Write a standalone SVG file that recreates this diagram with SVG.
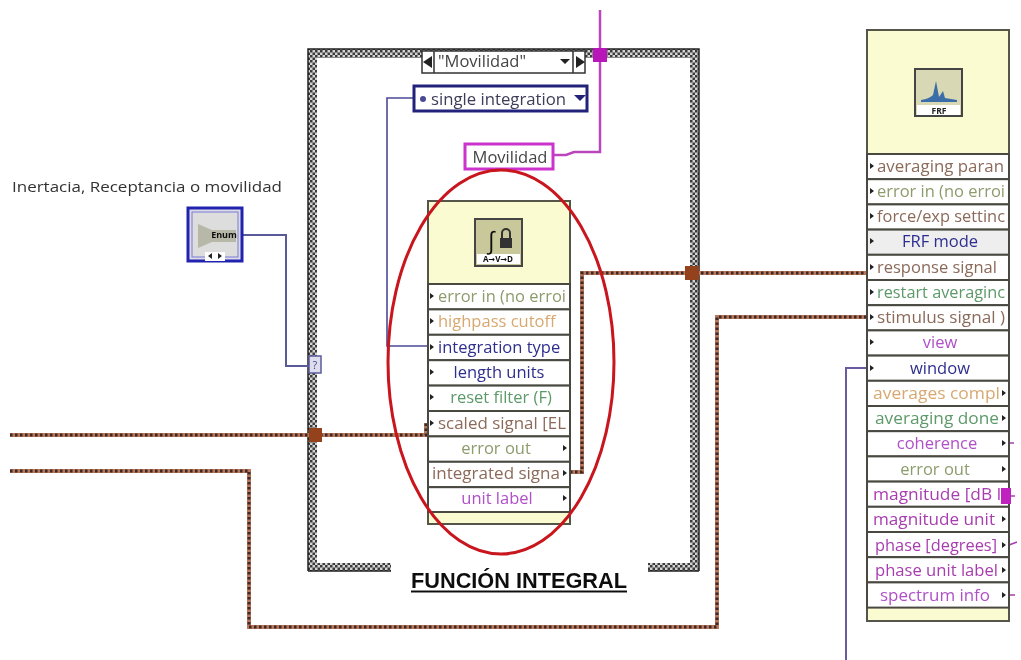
<svg xmlns="http://www.w3.org/2000/svg" width="1021" height="660" viewBox="0 0 1021 660">
<style>
text{font-family:"Open Sans","DejaVu Sans",sans-serif;font-size:16.5px;text-anchor:middle}
.l{text-anchor:start}
.row{fill:#fff;stroke:#4a4a42;stroke-width:2}
.body{fill:#fbfbd2;stroke:#55554a;stroke-width:2}
.term{fill:#222}
.w1{fill:none;stroke:#b8765a;stroke-width:4}
.w2{fill:none;stroke:#3d2a26;stroke-width:3;stroke-dasharray:2.5 2.5}
.enum{fill:none;stroke:#5a5a9a;stroke-width:2}
.pink{fill:none;stroke:#bb44bb;stroke-width:2.5}
.bl{fill:#2e2e90}.gr{fill:#5d9a6a}.ol{fill:#8c9c6c}.or{fill:#d8a870}.br{fill:#8c6a5a}.pu{fill:#b050c8}.mg{fill:#a83cb0}
</style>
<defs>
<pattern id="chk" width="5" height="5" patternUnits="userSpaceOnUse">
<rect width="5" height="5" fill="#d4d4d4"/><rect width="2.5" height="2.5" fill="#3a3a3a"/><rect x="2.500" y="2.500" width="2.500" height="2.500" fill="#3a3a3a"/>
</pattern>
<filter id="soft" x="0" y="0" width="100%" height="100%"><feGaussianBlur stdDeviation="0.5"/></filter>
</defs>
<rect width="1021" height="660" fill="#fff"/>
<g filter="url(#soft)">
<g id="case-frame">
<rect x="308" y="49" width="391" height="9" fill="url(#chk)"/>
<rect x="308" y="49" width="9" height="522" fill="url(#chk)"/>
<rect x="690" y="49" width="9" height="522" fill="url(#chk)"/>
<rect x="308" y="563" width="83" height="8" fill="url(#chk)"/>
<rect x="648" y="563" width="51" height="8" fill="url(#chk)"/>
<path d="M308 571V49H699V571M308 571H391M648 571H699" fill="none" stroke="#222" stroke-width="1.5"/>
</g>
<g id="connectors">
<path class="w1" d="M10 435H426V423M570 472H582V273H867"/>
<path class="w2" d="M10 435H426V423M570 472H582V273H867"/>
<path class="w1" d="M10 471H249V627H717V317H867"/>
<path class="w2" d="M10 471H249V627H717V317H867"/>
<path class="enum" d="M243 235H286V366H309"/>
<path d="M413 98H387V346H430" fill="none" stroke="#4a4a98" stroke-width="1.6"/>
<path d="M846 660V368H869" fill="none" stroke="#6a5aa0" stroke-width="2"/>
<path class="pink" d="M600 10V152H574L566 155H554"/>
<rect x="593" y="48" width="14" height="14" fill="#b818b8"/>
<rect x="309" y="428" width="13" height="14" fill="#94421e"/>
<rect x="685" y="266" width="14" height="14" fill="#94421e"/>
<path d="M1009 496h6M1009 545l8-3M1009 595h6M1009 443h5" stroke="#a83cb0" stroke-width="1.500" fill="none"/>
</g>
<g id="case-selector">
<rect x="422" y="51" width="163" height="22" fill="#fff" stroke="#333" stroke-width="1.500"/>
<path d="M434 51V73M573 51V73" stroke="#333" stroke-width="1.500"/>
<path d="M423 62l9-6v12zM576 56l9 6-9 6zM560 59h10l-5 5z" fill="#222"/>
<text class="l" x="438" y="67" fill="#444">"Movilidad"</text>
</g>
<g id="enum-constant">
<rect x="414" y="86" width="173" height="25" fill="#fff" stroke="#23237a" stroke-width="3"/>
<circle cx="423" cy="99" r="3" fill="#4a4a98"/>
<text class="l" x="431" y="105" fill="#3c3c5a" textLength="135" lengthAdjust="spacingAndGlyphs">single integration</text>
<path d="M574 95h12l-6 6z" fill="#23237a"/>
</g>
<g id="string-constant">
<rect x="465" y="144" width="88" height="25" fill="#fff" stroke="#cc33cc" stroke-width="3"/>
<text x="510" y="163" fill="#444">Movilidad</text>
</g>
<g id="inertia-label">
<text class="l" x="12" y="192" fill="#333" style="font-size:15px" textLength="270" lengthAdjust="spacingAndGlyphs">Inertacia, Receptancia o movilidad</text>
</g>
<g id="enum-control">
<rect x="188" y="208" width="54" height="53" fill="#dcdce8" stroke="#2222b0" stroke-width="3"/>
<rect x="192" y="212" width="46" height="45" fill="#ddd" stroke="#7a7ad8"/>
<path d="M198 224l14 6h24v12h-24l-14 6z" fill="#b8b8a8"/>
<text x="224" y="238" fill="#111" style="font-size:9px;font-weight:700">Enum</text>
<rect x="205" y="252" width="20" height="9" fill="#fff"/>
<path d="M208 256l4-3v6zM222 256l-4-3v6z" fill="#222"/>
</g>
<g id="case-tunnel">
<rect x="309" y="356" width="12" height="17" fill="#dde" stroke="#5a5a9a" stroke-width="1.500"/>
<text x="315" y="369" fill="#3c3c88" style="font-size:10px">?</text>
</g>
<g id="integral-node">
<rect class="body" x="428" y="201" width="142" height="323"/>
<rect x="475" y="219" width="47" height="47" fill="#c8c89a" stroke="#444" stroke-width="2"/>
<rect x="477" y="254" width="43" height="10" fill="#fff"/>
<text x="491" y="249" fill="#111" style="font-size:24px">∫</text>
<rect x="500" y="238" width="12" height="10" fill="#333"/>
<path d="M502 238v-5a4 4 0 0 1 8 0v5" fill="none" stroke="#333" stroke-width="2"/>
<text x="498" y="262" fill="#111" style="font-size:8px;font-weight:700">A→V→D</text>
<rect class="row" x="428" y="284" width="142" height="25.400"/>
<rect class="row" x="428" y="309.400" width="142" height="25.400"/>
<rect class="row" x="428" y="334.800" width="142" height="25.400"/>
<rect class="row" x="428" y="360.200" width="142" height="25.400"/>
<rect class="row" x="428" y="385.600" width="142" height="25.400"/>
<rect class="row" x="428" y="411" width="142" height="25.400"/>
<rect class="row" x="428" y="436.400" width="142" height="25.400"/>
<rect class="row" x="428" y="461.800" width="142" height="25.400"/>
<rect class="row" x="428" y="487.200" width="142" height="24.800"/>
<path class="term" d="M430 293l4 3-4 3zM430 318l4 3-4 3zM430 344l4 3-4 3zM430 369l4 3-4 3zM430 394l4 3-4 3zM430 420l4 3-4 3zM563 445l4 3-4 3zM563 470l4 3-4 3zM563 495l4 3-4 3z"/>
<text class="l ol" x="438" y="302" textLength="128" lengthAdjust="spacingAndGlyphs">error in (no erroi</text>
<text class="l or" x="438" y="327">highpass cutoff</text>
<text class="l bl" x="438" y="353">integration type</text>
<text class="bl" x="499" y="378">length units</text>
<text class="gr" x="501" y="403">reset filter (F)</text>
<text class="l br" x="438" y="429" textLength="128" lengthAdjust="spacingAndGlyphs">scaled signal [EL</text>
<text class="ol" x="496" y="454">error out</text>
<text class="br" x="496" y="479" textLength="128" lengthAdjust="spacingAndGlyphs">integrated signa</text>
<text class="pu" x="497" y="504">unit label</text>
</g>
<g id="frf-node">
<rect class="body" x="867" y="30" width="142" height="591"/>
<rect x="915" y="69" width="47" height="47" fill="#d8d8b4" stroke="#444" stroke-width="2"/>
<rect x="917" y="105" width="43" height="10" fill="#fff"/>
<path d="M921 100q8-1 12-5l3-14 3 16 4-6 2 7 12 2v2h-36z" fill="#3a6ea8"/>
<text x="939" y="114" fill="#222" style="font-size:8.500px;font-weight:700">FRF</text>
<rect class="row" x="867" y="154" width="142" height="25.200"/>
<rect class="row" x="867" y="179.200" width="142" height="25.200"/>
<rect class="row" x="867" y="204.400" width="142" height="25.200"/>
<rect x="867" y="229.600" width="142" height="25.200" fill="#eee" stroke="#4a4a42" stroke-width="2"/>
<rect class="row" x="867" y="254.800" width="142" height="25.200"/>
<rect class="row" x="867" y="280" width="142" height="25.200"/>
<rect class="row" x="867" y="305.200" width="142" height="25.200"/>
<rect class="row" x="867" y="330.400" width="142" height="25.200"/>
<rect class="row" x="867" y="355.600" width="142" height="25.200"/>
<rect class="row" x="867" y="380.800" width="142" height="25.200"/>
<rect class="row" x="867" y="406" width="142" height="25.200"/>
<rect class="row" x="867" y="431.200" width="142" height="25.200"/>
<rect class="row" x="867" y="456.400" width="142" height="25.200"/>
<rect class="row" x="867" y="481.600" width="142" height="25.200"/>
<rect class="row" x="867" y="506.800" width="142" height="25.200"/>
<rect class="row" x="867" y="532" width="142" height="25.200"/>
<rect class="row" x="867" y="557.200" width="142" height="25.200"/>
<rect class="row" x="867" y="582.400" width="142" height="25.200"/>
<path class="term" d="M870 163l4 3-4 3zM870 188l4 3-4 3zM870 213l4 3-4 3zM870 238l4 3-4 3zM870 264l4 3-4 3zM870 289l4 3-4 3zM870 314l4 3-4 3zM870 339l4 3-4 3zM870 365l4 3-4 3zM1002 390l4 3-4 3zM1002 415l4 3-4 3zM1002 440l4 3-4 3zM1002 466l4 3-4 3zM1002 516l4 3-4 3zM1002 542l4 3-4 3zM1002 567l4 3-4 3zM1002 592l4 3-4 3z"/>
<rect x="1001" y="488" width="10" height="16" fill="#c020c0"/>
<text class="l br" x="877" y="172" textLength="127" lengthAdjust="spacingAndGlyphs">averaging paran</text>
<text class="l ol" x="877" y="197" textLength="128" lengthAdjust="spacingAndGlyphs">error in (no erroi</text>
<text class="l br" x="877" y="222" textLength="128" lengthAdjust="spacingAndGlyphs">force/exp settinc</text>
<text class="bl" x="940" y="247">FRF mode</text>
<text class="l br" x="877" y="273">response signal</text>
<text class="l gr" x="877" y="298" textLength="128" lengthAdjust="spacingAndGlyphs">restart averaginc</text>
<text class="l br" x="877" y="323" textLength="128" lengthAdjust="spacingAndGlyphs">stimulus signal )</text>
<text class="pu" x="940" y="348">view</text>
<text class="bl" x="940" y="374">window</text>
<text class="l or" x="873" y="399" textLength="127" lengthAdjust="spacingAndGlyphs">averages compl</text>
<text class="l gr" x="875" y="424" textLength="124" lengthAdjust="spacingAndGlyphs">averaging done</text>
<text class="pu" x="937" y="449">coherence</text>
<text class="ol" x="935" y="475">error out</text>
<text class="l mg" x="873" y="500" textLength="128" lengthAdjust="spacingAndGlyphs">magnitude [dB l</text>
<text class="l mg" x="873" y="525" textLength="122" lengthAdjust="spacingAndGlyphs">magnitude unit</text>
<text class="l mg" x="875" y="551" textLength="122" lengthAdjust="spacingAndGlyphs">phase [degrees]</text>
<text class="l mg" x="875" y="576" textLength="123" lengthAdjust="spacingAndGlyphs">phase unit label</text>
<text class="pu" x="935" y="601" textLength="110" lengthAdjust="spacingAndGlyphs">spectrum info</text>
</g>
<g id="ellipse-highlight">
<ellipse cx="501" cy="362" rx="113" ry="192" fill="none" stroke="#c8141e" stroke-width="3"/>
</g>
<g id="title">
<text class="l" x="411" y="588" fill="#111" style="font-size:22px;font-weight:700;font-family:'Liberation Sans',sans-serif" textLength="216" lengthAdjust="spacingAndGlyphs">FUNCIÓN INTEGRAL</text>
<path d="M411 591.500H627" stroke="#111" stroke-width="2"/>
</g>
</g>
</svg>
